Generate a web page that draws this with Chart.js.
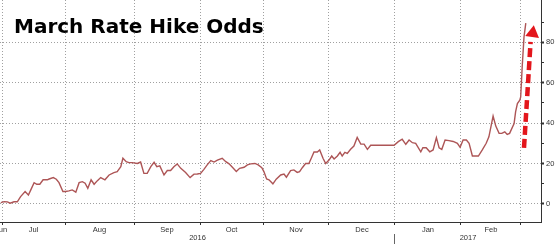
<!DOCTYPE html>
<html>
<head>
<meta charset="utf-8">
<script src="https://cdn.jsdelivr.net/npm/chart.js@4.4.1/dist/chart.umd.min.js"></script>
<style>
  body { margin: 0; background: #fff; }
  #wrap { position: relative; width: 558px; height: 245px; }
  #oddsChart { display: block; }
  #title {
    position: absolute; left: 14px; top: 16px;
    font: bold 20px/1 "DejaVu Sans", Verdana, sans-serif; color: #000;
    white-space: nowrap;
  }
</style>
</head>
<body>
<div id="wrap">
  <canvas id="oddsChart" width="558" height="245"></canvas>
  <div id="title">March Rate Hike Odds</div>
</div>
<script>
// trading day index (0 = 1 Jul 2016) and implied odds of a March hike, %
const tradeDay = [-0.4, 0.7, 1.8, 2.7, 4.0, 5.1, 6.2, 7.7, 8.8, 9.6, 10.7, 11.6, 12.6, 13.7, 15.1, 15.7, 17.1, 18.1, 19.0,
  20.3, 21.2, 22.3, 23.4, 24.6, 25.7, 26.8, 27.7, 28.6, 29.7, 30.7, 31.8, 32.9, 34.3, 35.7, 37.3, 38.4, 39.6, 40.3, 41.4,
  42.3, 43.4, 45.1, 46.2, 47.3, 48.4, 49.6, 50.7, 51.6, 52.6, 54.0, 55.1, 56.2, 57.3, 58.4, 59.6, 61.2, 62.7, 64.0, 65.1,
  66.2, 67.3, 68.4, 69.6, 70.7, 71.8, 73.4, 74.6, 75.7, 76.8, 78.1, 79.2, 80.7, 81.8, 82.9, 84.3, 85.4, 86.6, 87.3, 88.2,
  89.0, 90.3, 91.4, 92.9, 94.0, 94.8, 96.2, 97.3, 98.4, 99.2, 100.1, 101.2, 102.3, 103.2, 104.0, 105.1, 105.9, 107.0, 107.9,
  109.0, 109.9, 110.7, 111.8, 112.7, 113.4, 114.3, 115.1, 116.2, 117.3, 118.4, 119.6, 120.7, 121.8, 122.9, 130.7, 132.1,
  133.4, 134.6, 135.7, 136.8, 137.9, 139.6, 140.3, 141.4, 142.6, 143.7, 144.8, 145.7, 146.6, 147.7, 149.0, 150.4, 151.8,
  152.7, 153.7, 154.8, 155.7, 156.8, 158.8, 160.1, 161.4, 162.3, 163.7, 164.6, 165.7, 166.6, 167.6, 168.4, 169.2, 170.7,
  171.2, 171.8, 172.6, 172.9, 173.4, 174.0, 174.6];
const odds = [0.6, 1.1, 1.0, 0.3, 1.0, 1.0, 3.6, 6.1, 4.4, 6.9, 10.5, 9.7, 9.7, 11.9, 11.9, 12.3, 13.0, 12.2, 10.5,
  6.1, 6.1, 6.4, 6.9, 5.8, 10.5, 11.0, 10.2, 7.7, 11.9, 9.7, 11.5, 13.0, 11.9, 14.3, 15.5, 16.0, 18.4, 22.6, 20.9,
  20.4, 20.4, 20.0, 20.7, 15.1, 15.1, 18.4, 20.6, 18.4, 18.8, 14.3, 16.5, 16.5, 18.4, 19.8, 17.6, 15.5, 13.0, 14.7, 14.8,
  15.1, 17.1, 19.3, 21.4, 20.7, 21.7, 22.6, 20.9, 19.8, 18.1, 16.0, 17.6, 18.1, 19.3, 19.8, 20.0, 19.3, 17.9, 16.0, 12.3,
  11.9, 9.9, 12.2, 14.3, 14.8, 13.2, 16.5, 16.8, 15.6, 16.0, 17.9, 20.0, 20.0, 23.0, 25.7, 25.7, 26.7, 22.6, 20.0,
  21.7, 23.7, 22.2, 23.7, 25.5, 23.7, 25.5, 25.0, 27.0, 28.6, 32.9, 29.6, 29.6, 27.0, 29.0, 29.0, 30.8,
  32.0, 29.5, 31.6, 30.3, 30.0, 25.8, 27.8, 27.8, 25.8, 26.7, 32.8, 27.8, 27.0, 31.6, 31.3, 30.9, 30.0,
  28.0, 31.6, 31.6, 30.0, 23.7, 23.7, 26.7, 30.0, 33.2, 43.5, 38.5, 34.9, 34.9, 35.7, 34.4, 34.9, 39.8,
  45.6, 49.7, 51.4, 53.0, 67.8, 82.6, 89.5];

// dashed arrow (shaft ends and head) in the same day / % units
const arrowShaftX = [174.0, 176.2];
const arrowShaftY = [27.7, 80.2];
const arrowHeadX = [176.9];
const arrowHeadY = [84.6];

// axes
const monthStarts = [0, 21, 44, 66, 87, 109, 131, 153, 173];
const monthMids = [-0.3, 10.5, 32.5, 55, 76.5, 98, 120, 142, 163];
const monthNames = ["Jun", "Jul", "Aug", "Sep", "Oct", "Nov", "Dec", "Jan", "Feb"];
const yearNames = ["2016", "", "2017"];
const newYearDay = 131;
const yMajor = [0, 20, 40, 60, 80];
const yMinor = [10, 30, 50, 70, 90];
const xMin = -0.67;
const xMax = 179.67;

const tickFont = { family: "Liberation Sans", size: 7.5 };
const gridGray = "#a0a0a0";
const axisDark = "#333";

function noPad(axis) {
  axis.paddingLeft = 0;
  axis.paddingRight = 0;
  axis.paddingTop = 0;
  axis.paddingBottom = 0;
}

const yearTicks = [(xMin + newYearDay) / 2, newYearDay, (newYearDay + xMax) / 2];

const ctx = document.getElementById("oddsChart").getContext("2d");
new Chart(ctx, {
  type: "line",
  data: {
    datasets: [
      {
        label: "March hike odds",
        data: tradeDay.map((d, i) => ({ x: d, y: odds[i] })),
        borderColor: "#ad5556",
        borderWidth: 1.4,
        pointRadius: 0,
        tension: 0,
      },
      {
        label: "arrow",
        data: arrowShaftX.map((d, i) => ({ x: d, y: arrowShaftY[i] })),
        borderColor: "#e3161c",
        borderWidth: 4.5,
        borderDash: [9, 4],
        borderCapStyle: "butt",
        pointRadius: 0,
      },
      {
        label: "arrow head",
        data: arrowHeadX.map((d, i) => ({ x: d, y: arrowHeadY[i] })),
        showLine: false,
        pointStyle: "triangle",
        pointRadius: 8,
        rotation: 8,
        backgroundColor: "#e3161c",
        borderColor: "#e3161c",
        borderWidth: 0,
      },
    ],
  },
  options: {
    responsive: false,
    animation: false,
    events: [],
    layout: { padding: 0, autoPadding: false },
    plugins: { legend: { display: false }, tooltip: { enabled: false } },
    scales: {
      x: {
        type: "linear",
        position: "bottom",
        weight: 0,
        min: xMin,
        max: xMax,
        afterBuildTicks: (a) => { a.ticks = monthStarts.map((v) => ({ value: v })); },
        afterFit: (a) => { a.height = 3; noPad(a); },
        grid: { color: gridGray, lineWidth: 1, drawTicks: true, tickLength: 3, tickColor: axisDark, tickWidth: 1 },
        border: { display: true, color: axisDark, width: 1, dash: [1, 2] },
        ticks: { display: false },
      },
      xMonths: {
        type: "linear",
        position: "bottom",
        weight: 1,
        min: xMin,
        max: xMax,
        afterBuildTicks: (a) => { a.ticks = monthMids.map((v) => ({ value: v })); },
        afterFit: (a) => { a.height = 9; noPad(a); },
        grid: { display: false, drawTicks: false },
        border: { display: false },
        ticks: {
          autoSkip: false, maxRotation: 0, padding: 0, color: axisDark, font: tickFont,
          callback: (v, i) => monthNames[i],
        },
      },
      xYears: {
        type: "linear",
        position: "bottom",
        weight: 2,
        min: xMin,
        max: xMax,
        afterBuildTicks: (a) => { a.ticks = yearTicks.map((v) => ({ value: v })); },
        afterFit: (a) => { a.height = 11; noPad(a); },
        grid: {
          display: true, drawOnChartArea: false, drawTicks: true, tickLength: 10,
          color: "transparent",
          tickColor: (c) => (c.index === 1 ? "#666" : "transparent"),
        },
        border: { display: false },
        ticks: {
          autoSkip: false, maxRotation: 0, padding: -11, color: axisDark, font: tickFont,
          callback: (v, i) => yearNames[i],
        },
      },
      y: {
        type: "linear",
        position: "right",
        min: -9,
        max: 101,
        afterBuildTicks: (a) => {
          a.ticks = yMajor.concat(yMinor).sort((p, q) => p - q).map((v) => ({ value: v }));
        },
        afterFit: (a) => { a.width = 17; noPad(a); },
        grid: {
          color: (c) => (c.tick && yMajor.includes(c.tick.value) ? gridGray : "transparent"),
          lineWidth: 1,
          tickLength: 3,
          tickColor: axisDark,
          tickWidth: (c) => (c.tick && yMajor.includes(c.tick.value) ? 2 : 1),
        },
        border: { display: true, color: axisDark, width: 1, dash: [1, 2] },
        ticks: {
          padding: 2, color: axisDark, font: tickFont,
          callback: (v) => (yMajor.includes(v) ? String(v) : ""),
        },
      },
    },
  },
});
</script>
</body>
</html>
